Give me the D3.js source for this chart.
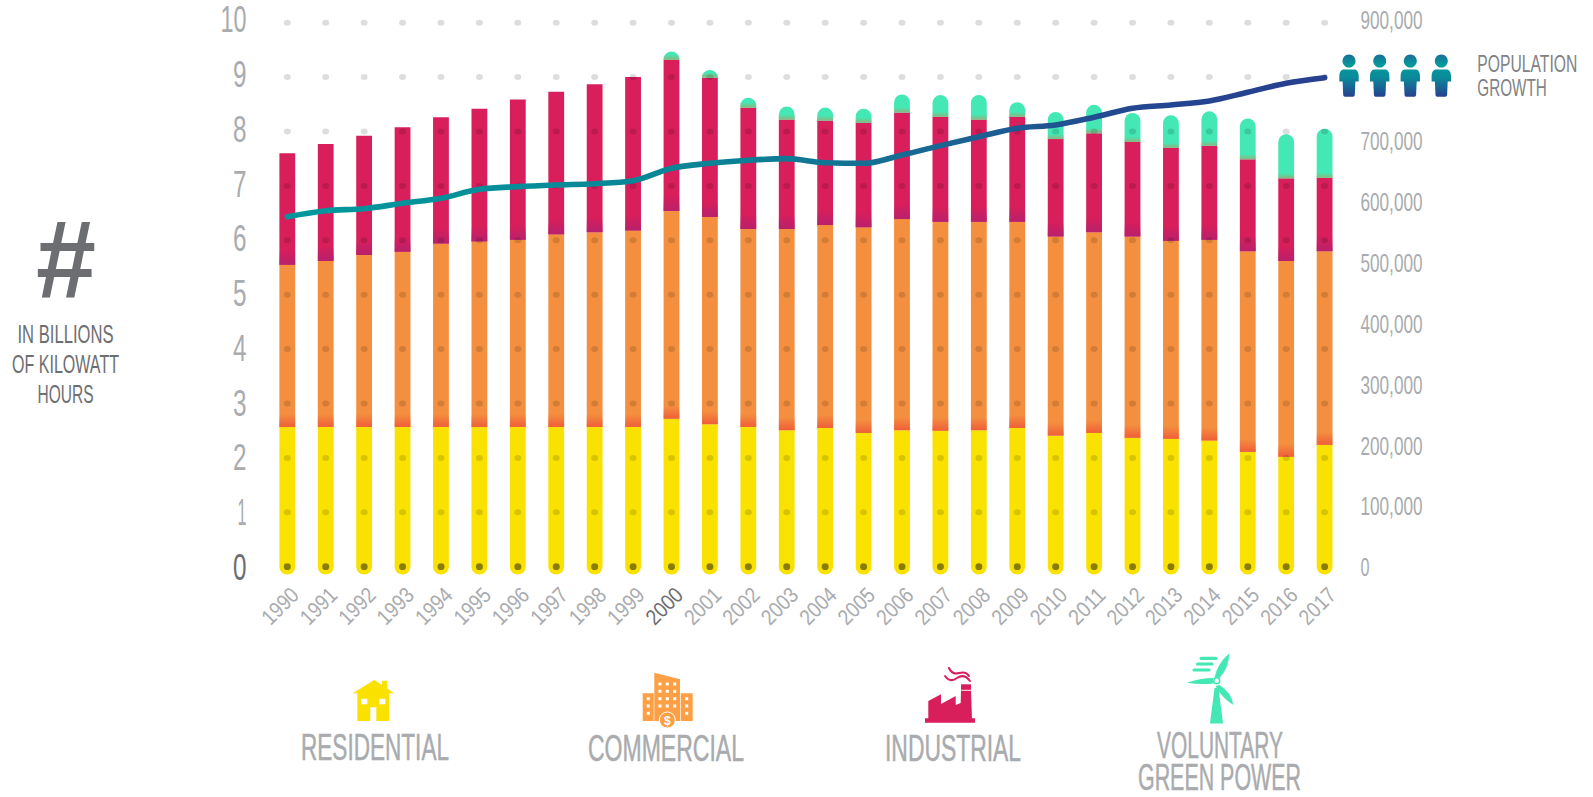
<!DOCTYPE html>
<html>
<head>
<meta charset="utf-8">
<script src="https://cdn.jsdelivr.net/npm/d3@7"></script>
<style>
  html, body { margin: 0; background: #fff; }
  svg { display: block; }
  text { font-family: "Liberation Sans Narrow", "Liberation Sans", sans-serif; }
</style>
</head>
<body>
<svg id="chart" width="1593" height="797"></svg>
<script>
const years = d3.range(1990, 2018);

// billions of kWh
const residential = [2.57, 2.57, 2.57, 2.57, 2.57, 2.57, 2.57, 2.57, 2.57, 2.57, 2.72, 2.62, 2.57, 2.51, 2.55, 2.46, 2.51, 2.50, 2.51, 2.55, 2.41, 2.46, 2.37, 2.35, 2.32, 2.11, 2.02, 2.24];
const commercial = [2.98, 3.05, 3.16, 3.22, 3.37, 3.41, 3.44, 3.54, 3.58, 3.61, 3.82, 3.81, 3.64, 3.70, 3.73, 3.78, 3.88, 3.84, 3.83, 3.79, 3.66, 3.69, 3.70, 3.64, 3.69, 3.69, 3.60, 3.56];
const industrial = [2.05, 2.15, 2.19, 2.29, 2.32, 2.44, 2.58, 2.62, 2.72, 2.82, 2.78, 2.56, 2.23, 2.01, 1.92, 1.92, 1.96, 1.93, 1.88, 1.93, 1.79, 1.82, 1.74, 1.71, 1.73, 1.69, 1.52, 1.35];
const greenPower = [0, 0, 0, 0, 0, 0, 0, 0, 0, 0, 0.15, 0.14, 0.18, 0.24, 0.24, 0.26, 0.33, 0.40, 0.45, 0.27, 0.50, 0.52, 0.53, 0.60, 0.63, 0.75, 0.81, 0.90];
const population = [575700, 585500, 588800, 597700, 605900, 620700, 625000, 627800, 629900, 634800, 655200, 663400, 668400, 671000, 664400, 663400, 677100, 692400, 707100, 721000, 726400, 739000, 753800, 759200, 765800, 780100, 794900, 804100];

const kwhTicks = d3.range(0, 11);
const popTicks = d3.range(0, 1000000, 100000).filter(d => d !== 800000);
const seriesKeys = ['residential', 'commercial', 'industrial', 'greenPower'];
const seriesColors = { residential: '#f9e200', commercial: '#f48f3f', industrial: '#d81e5b', greenPower: '#43e8b4' };
const seriesShade = { commercial: '#ef5f38', industrial: '#b8216c', greenPower: '#8fb47e' };
const shadeHeight = { commercial: 13, industrial: 15, greenPower: 5 };

const GREY = '#a9abae';
const DARK = '#6d6e71';
const barW = 15.8;

const svg = d3.select('#chart');

const x = d3.scalePoint().domain(years).range([287.3, 1324.6]);
const y = d3.scaleLinear().domain([0, 10]).range([566.7, 22.7]);
const yLabels = d3.scaleLinear().domain([0, 10]).range([566.7, 19.2]); // tick text sits on a slightly taller ruler than the dots
const yPop = d3.scaleLinear().domain([0, 900000]).range([567, 19.3]);

const rows = years.map((yr, i) => ({
  year: yr,
  residential: residential[i],
  commercial: commercial[i],
  industrial: industrial[i],
  greenPower: greenPower[i]
}));
const stacked = d3.stack().keys(seriesKeys)(rows);

const defs = svg.append('defs');

// fade at the foot of each segment
Object.keys(seriesShade).forEach(k => {
  const g = defs.append('linearGradient').attr('id', 'shade-' + k).attr('x1', 0).attr('y1', 1).attr('x2', 0).attr('y2', 0);
  g.append('stop').attr('offset', 0).attr('stop-color', seriesShade[k]).attr('stop-opacity', 1);
  g.append('stop').attr('offset', 1).attr('stop-color', seriesShade[k]).attr('stop-opacity', 0);
});

// population line, teal to navy
const lineGrad = defs.append('linearGradient').attr('id', 'line-grad').attr('gradientUnits', 'userSpaceOnUse')
  .attr('x1', x(1990)).attr('y1', 0).attr('x2', x(2017)).attr('y2', 0);
[[0, '#00989c'], [0.4, '#0a8496'], [0.62, '#196793'], [0.82, '#244690'], [1, '#27408f']].forEach(s => {
  lineGrad.append('stop').attr('offset', s[0]).attr('stop-color', s[1]);
});

const personGrad = defs.append('linearGradient').attr('id', 'person-grad').attr('x1', 0).attr('y1', 0).attr('x2', 0).attr('y2', 1);
[[0, '#1a6f98'], [0.25, '#059a9c'], [0.55, '#0b8a9a'], [1, '#27408f']].forEach(s => {
  personGrad.append('stop').attr('offset', s[0]).attr('stop-color', s[1]);
});

// bars
const barPath = (cx, y0, y1, roundTop, roundBottom) => {
  const l = cx - barW / 2, r = cx + barW / 2;
  const rad = barW / 2;
  let p = '';
  if (roundTop) {
    const ry = Math.min(rad, y0 - y1);
    p += `M${l},${y1 + ry}A${rad},${ry} 0 0 1 ${r},${y1 + ry}`;
  } else {
    p += `M${l},${y1}L${r},${y1}`;
  }
  if (roundBottom) {
    p += `L${r},${y0}A${rad},${rad} 0 0 1 ${l},${y0}Z`;
  } else {
    p += `L${r},${y0}L${l},${y0}Z`;
  }
  return p;
};

const layers = svg.append('g').selectAll('g').data(stacked).enter().append('g');

layers.selectAll('path')
  .data(s => s.filter(d => d[1] > d[0]).map(d => ({ key: s.key, d })))
  .enter().append('path')
  .attr('fill', o => seriesColors[o.key])
  .attr('d', o => barPath(x(o.d.data.year), y(o.d[0]), y(o.d[1]), o.key === 'greenPower', o.key === 'residential'));

layers.filter(s => seriesShade[s.key]).selectAll('rect')
  .data(s => s.filter(d => d[1] > d[0]).map(d => ({ key: s.key, d })))
  .enter().append('rect')
  .attr('fill', o => `url(#shade-${o.key})`)
  .attr('x', o => x(o.d.data.year) - barW / 2)
  .attr('width', barW)
  .attr('y', o => y(o.d[0]) - Math.min(shadeHeight[o.key], y(o.d[0]) - y(o.d[1])))
  .attr('height', o => Math.min(shadeHeight[o.key], y(o.d[0]) - y(o.d[1])));

// dot grid, over the bars
svg.append('g').selectAll('g').data(kwhTicks).enter().append('g')
  .selectAll('ellipse')
  .data(k => years.map(yr => ({ k, yr })))
  .enter().append('ellipse')
  .attr('cx', d => x(d.yr))
  .attr('cy', d => y(d.k))
  .attr('rx', 3.5)
  .attr('ry', d => d.k === 0 ? 3.4 : 3)
  .attr('fill', '#000')
  .attr('fill-opacity', d => d.k === 0 ? 0.45 : 0.135);

// population line
const line = d3.line()
  .x((d, i) => x(years[i]))
  .y(d => yPop(d))
  .curve(d3.curveMonotoneX);

svg.append('path')
  .datum(population)
  .attr('d', line)
  .attr('fill', 'none')
  .attr('stroke', 'url(#line-grad)')
  .attr('stroke-width', 5.6)
  .attr('stroke-linecap', 'round')
  .attr('stroke-linejoin', 'round');

// axes
const clean = g => g.call(a => a.selectAll('path.domain, g.tick line').remove());

svg.append('g')
  .attr('transform', 'translate(256,0)')
  .call(d3.axisLeft(yLabels).tickValues(kwhTicks).tickSize(0).tickPadding(9.5).tickFormat(d3.format('d')))
  .call(clean)
  .selectAll('text')
  .attr('font-size', 36)
  .attr('textLength', d => d === 10 ? 26 : d === 1 ? 9 : 13.5)
  .attr('lengthAdjust', 'spacingAndGlyphs')
  .attr('fill', d => d === 0 ? DARK : GREY)
  .attr('dy', '0.35em');

svg.append('g')
  .attr('transform', 'translate(1360.5,0)')
  .call(d3.axisRight(yPop).tickValues(popTicks).tickSize(0).tickPadding(0).tickFormat(d3.format(',')))
  .call(clean)
  .selectAll('text')
  .attr('font-size', 25)
  .attr('textLength', d => d === 0 ? 9 : 62)
  .attr('lengthAdjust', 'spacingAndGlyphs')
  .attr('fill', GREY)
  .attr('dy', '0.35em');

svg.append('g')
  .attr('transform', 'translate(0,588)')
  .call(d3.axisBottom(x).tickSize(0).tickFormat(d3.format('d')))
  .call(clean)
  .selectAll('text')
  .attr('font-size', 22)
  .attr('y', 0)
  .attr('dy', '0.35em')
  .attr('textLength', 42)
  .attr('lengthAdjust', 'spacingAndGlyphs')
  .attr('text-anchor', 'end')
  .attr('fill', d => d === 2000 ? DARK : GREY)
  .attr('transform', 'translate(7,3) rotate(-45)');

// text helper, squeezes each label to its measured width
const label = (txt, cx, base, size, width, color, anchor) => svg.append('text')
  .text(txt)
  .attr('x', cx)
  .attr('y', base)
  .attr('font-size', size)
  .attr('text-anchor', anchor || 'middle')
  .attr('textLength', width)
  .attr('lengthAdjust', 'spacingAndGlyphs')
  .attr('fill', color);

// left unit block
svg.append('text').text('#')
  .attr('x', 66).attr('y', 298)
  .attr('text-anchor', 'middle')
  .attr('font-size', 112)
  .attr('font-weight', 700)
  .attr('textLength', 60)
  .attr('lengthAdjust', 'spacingAndGlyphs')
  .attr('fill', DARK)
  .style('font-family', '"Liberation Sans", sans-serif');
label('IN BILLIONS', 65.5, 342.7, 25, 96, DARK);
label('OF KILOWATT', 65.5, 373, 25, 107, DARK);
label('HOURS', 65.5, 403, 25, 56, DARK);

// legend captions
const legendFont = 36;
[
  label('RESIDENTIAL', 375, 760, legendFont, 148, GREY),
  label('COMMERCIAL', 666, 760.5, legendFont, 156, GREY),
  label('INDUSTRIAL', 953, 760.5, legendFont, 136, GREY),
  label('VOLUNTARY', 1220, 757.5, legendFont, 126, GREY),
  label('GREEN POWER', 1219.5, 790, legendFont, 163, GREY)
].forEach(t => t.attr('stroke', GREY).attr('stroke-width', 0.5));

label('POPULATION', 1477.3, 71.7, 24, 100, '#808285', 'start');
label('GROWTH', 1477.3, 95.7, 24, 69.5, '#808285', 'start');

// people
const personX = [1349, 1379.7, 1410.3, 1441.3];
const people = svg.append('g').selectAll('g').data(personX).enter().append('g')
  .attr('transform', d => `translate(${d},0)`);
people.append('path')
  .attr('fill', 'url(#person-grad)')
  .attr('d', 'M0,54.5a6.5,6.5 0 1 1 -0.01,0Z'
    + 'M-6,69.5L6,69.5Q9.6,70.5 9.7,76L9.7,81.5L6.4,81.5L5.8,95Q5.6,96.7 4,96.7L-4,96.7Q-5.6,96.7 -5.8,95L-6.4,81.5L-9.7,81.5L-9.7,76Q-9.6,70.5 -6,69.5Z');

// house
svg.append('path')
  .attr('fill', '#fae100')
  .attr('fill-rule', 'evenodd')
  .attr('d', 'M374.3,680L382,685L382,680.7L387.3,680.7L387.3,688.5L394,693.3L389.3,693.3L389.3,721L357.3,721L357.3,693.3L352.7,693.3Z'
    + 'M361.3,698.7L367.3,698.7L367.3,704.3L361.3,704.3Z'
    + 'M379.3,698.7L385.3,698.7L385.3,704.3L379.3,704.3Z'
    + 'M370.3,707.3L376.3,707.3L376.3,721L370.3,721Z');

// office block
const office = svg.append('g');
office.append('path')
  .attr('fill', '#fda045')
  .attr('d', 'M654.3,672.7L680,679.3L680,721L654.3,721Z M642.7,693.3L653.7,693.3L653.7,721L642.7,721Z M680.7,693.3L692.7,693.3L692.7,721L680.7,721Z');
const winX = [660, 667.3, 674.7], winY = [684, 691.3, 698.7, 706];
winX.forEach(wx => winY.forEach(wy => office.append('rect').attr('x', wx - 1.5).attr('y', wy - 1.5).attr('width', 3).attr('height', 3).attr('fill', '#fff')));
[648.3, 686.7].forEach(wx => [698.7, 706, 713.3].forEach(wy => office.append('rect').attr('x', wx - 1.5).attr('y', wy - 1.5).attr('width', 3).attr('height', 3).attr('fill', '#fff')));
office.append('circle').attr('cx', 667.3).attr('cy', 720).attr('r', 8).attr('fill', '#fda045').attr('stroke', '#fff').attr('stroke-width', 1);
office.append('text').text('$').attr('x', 667.3).attr('y', 724.5).attr('text-anchor', 'middle').attr('font-size', 12).attr('font-weight', 700).attr('fill', '#fff');

// factory
const factory = svg.append('g').attr('fill', '#d81e5b');
factory.append('path')
  .attr('d', 'M925,718.3L928.3,718.3L928.3,701L941,694.3L941,704L955.7,696L955.7,705L960.7,703L961,690.8L971,690.8L972,718.3L975,718.3L975,722.7L925,722.7Z');
factory.append('rect').attr('x', 961).attr('y', 684.3).attr('width', 10).attr('height', 5.5);
factory.append('path')
  .attr('fill', 'none').attr('stroke', '#d81e5b').attr('stroke-width', 2).attr('stroke-linecap', 'round')
  .attr('d', 'M945,676Q950,683 957,678T970,681 M949,668Q952,675 959,673T969,676');

// wind turbine
const turbine = svg.append('g').attr('fill', '#43e8b4');
turbine.append('path').attr('d', 'M1214.5,688L1218.5,688L1223,723.5L1210,723.5Z');
turbine.append('path').attr('d', 'M1214.5,678Q1217,664 1229.3,653.3Q1229,668 1219.5,678Z');
turbine.append('path').attr('d', 'M1213.2,678Q1200,678 1186.7,682.7Q1200,685 1213.2,683.5Z');
turbine.append('path').attr('d', 'M1219.5,685Q1232,693 1233.3,705Q1222,698 1215.5,686Z');
turbine.append('circle').attr('cx', 1216.7).attr('cy', 680.7).attr('r', 3).attr('fill', 'none').attr('stroke', '#43e8b4').attr('stroke-width', 1.6);
turbine.append('path')
  .attr('fill', 'none').attr('stroke', '#43e8b4').attr('stroke-width', 3.2).attr('stroke-linecap', 'round')
  .attr('d', 'M1201,658.3L1216,658.3 M1197.5,664L1212,664 M1194,670L1209,670');
</script>
</body>
</html>
